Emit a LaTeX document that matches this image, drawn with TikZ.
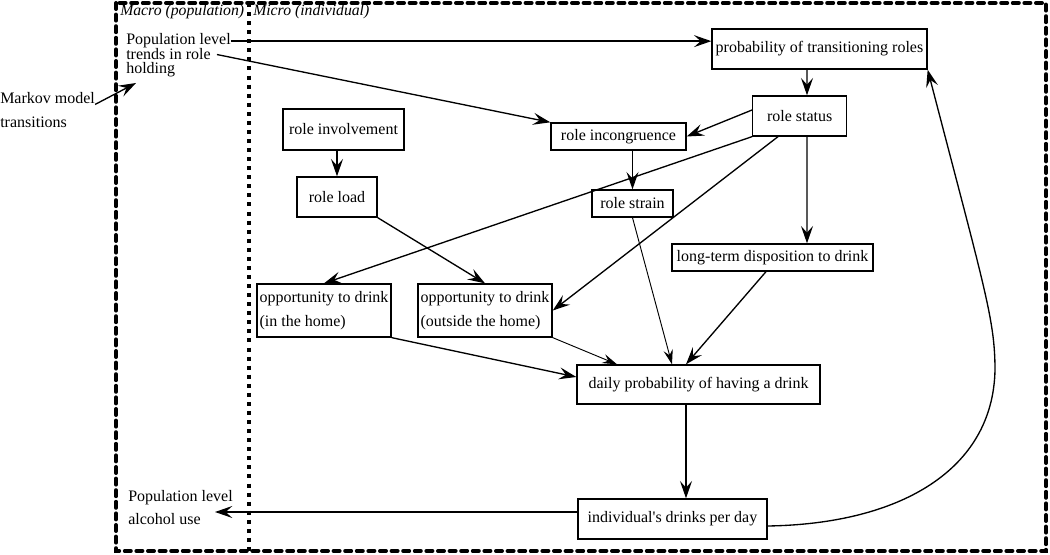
\documentclass[tikz,border=0pt]{standalone}
\usepackage{fontspec}
\setmainfont{Liberation Serif}[Ligatures=TeXOff]
\usetikzlibrary{arrows.meta,calc}

\begin{document}
\begin{tikzpicture}[x=0.75pt,y=-0.75pt,
    box/.style={draw, line width=1pt, inner sep=2pt, font=\fontsize{12}{18}\selectfont},
    txt/.style={inner sep=0pt, anchor=base west, font=\fontsize{12}{14}\selectfont},
    lbl/.style={inner sep=0pt, anchor=base west, font=\fontsize{11.8}{13}\selectfont\itshape},
    arr/.style={line width=1pt, -{Stealth[length=13pt,width=9pt,inset=5pt]}},
    thinarr/.style={line width=0.7pt, -{Stealth[length=11pt,width=7pt,inset=4pt]}}]
    \useasboundingbox (0,0) rectangle (1050,555);
    \draw [line width=3pt, line cap=round, dash pattern=on 4.5pt off 4.2pt] (116,3) rectangle (1046,551);
    \draw [line width=3pt, dash pattern=on 3pt off 3.8pt] (249,3) -- (249,551);
    \node[lbl] (macro) at (120,16) {Macro (population)};
    \node[lbl] (micro) at (253,16) {Micro (individual)};
    \node[txt] (pop1) at (126,45) {Population level};
    \node[txt] (pop2) at (126,60) {trends in role};
    \node[txt] (pop3) at (126,74) {holding};
    \node[txt] (mk1) at (0,104) {Markov model};
    \node[txt] (mk2) at (0,128) {transitions};
    \node[txt] (al1) at (128,502) {Population level};
    \node[txt] (al2) at (128,525) {alcohol use};
    \coordinate (mkend) at (136,83);
    \coordinate (alcend) at (215,512);
    \node[box, minimum width=161.25pt, minimum height=30pt] (prob) at (819.5,49) {probability of transitioning roles};
    \node[box, minimum width=70.5pt, minimum height=30pt] (status) at (799.7,116) {role status};
    \node[box, minimum width=101.25pt, minimum height=20.25pt] (incong) at (618.5,136.5) {role incongruence};
    \node[box, minimum width=90.75pt, minimum height=30.75pt] (involve) at (343.5,129.5) {role involvement};
    \node[box, minimum width=60pt, minimum height=30pt] (load) at (337,197) {role load};
    \node[box, minimum width=60.75pt, minimum height=20.25pt] (strain) at (632.5,203.5) {role strain};
    \node[box, minimum width=150.75pt, minimum height=20.25pt] (ltd) at (772.5,257.5) {long-term disposition to drink};
    \node[box, align=left, minimum width=100.5pt, minimum height=39.75pt] (inhome) at (324,310.5) {opportunity to drink\\(in the home)};
    \node[box, align=left, minimum width=100.5pt, minimum height=39.75pt] (outside) at (485,310.5) {opportunity to drink\\(outside the home)};
    \node[box, minimum width=182.25pt, minimum height=29.25pt] (daily) at (698.5,384.5) {daily probability of having a drink};
    \node[box, minimum width=141.75pt, minimum height=30pt] (indiv) at (672.5,519) {individual's drinks per day};
    \draw [arr] (pop1.east) -- (pop1.east -| prob.west);
    \draw [arr] ($(pop2.east)+(6,0)$) -- (incong.north west);
    \draw [arr] (mk1.south east) -- (mkend);
    \draw [arr] ($(prob.south)+(-12.5,0)$) -- ($(status.north)+(7.3,0)$);
    \draw [arr] ($(status.west)+(0,-6)$) -- (incong.east);
    \draw [arr] (status.south west) -- (inhome.north);
    \draw [arr] ($(status.south)+(-21.7,0)$) -- (outside.east);
    \draw [arr] ($(status.south)+(7.3,0)$) -- ($(ltd.north)+(34.5,0)$);
    \draw [arr] (incong.south -| strain.north) -- (strain.north);
    \draw [arr] (involve.south -| load.north) -- (load.north);
    \draw [arr] (load.south east) -- (outside.north);
    \draw [thinarr] (strain.south) -- ($(daily.north)+(-26.5,0)$);
    \draw [arr] ($(ltd.south)+(-6.5,0)$) -- ($(daily.north)+(-12.5,0)$);
    \draw [arr] (inhome.south east) -- ($(daily.west)+(0,-7.5)$);
    \draw [thinarr] (outside.south east) -- ($(daily.north)+(-81.5,0)$);
    \draw [arr] ($(daily.south)+(-12.5,0)$) -- ($(indiv.north)+(13.5,0)$);
    \draw [arr] ($(indiv.west)+(0,-7)$) -- (alcend);
    \draw [arr] ($(indiv.east)+(0,7)$) .. controls (900,524) and (993,470) .. (995,370)
        .. controls (995,320) and (985,290) .. (prob.south east);
\end{tikzpicture}
\end{document}
